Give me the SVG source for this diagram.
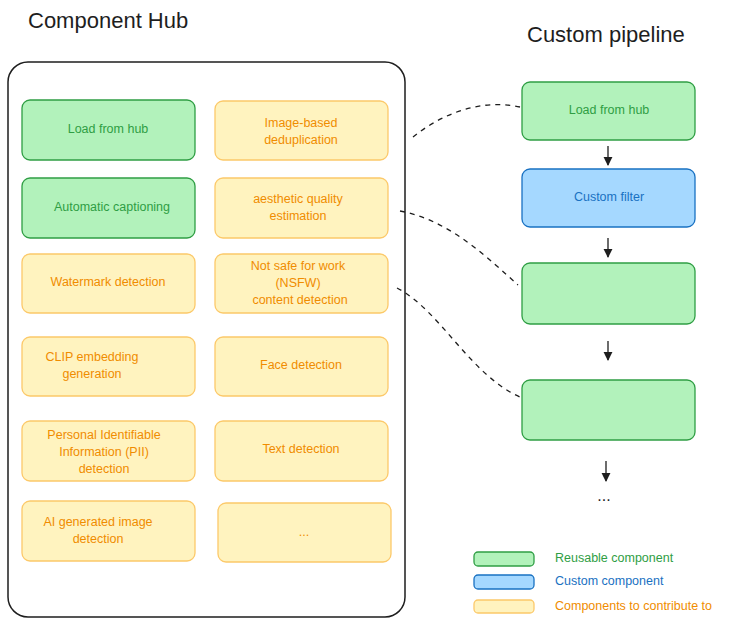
<svg xmlns="http://www.w3.org/2000/svg" width="756" height="626" viewBox="0 0 756 626">
<style>
text{font-family:"Liberation Sans",Arial,sans-serif;text-anchor:middle;dominant-baseline:middle}
.t{font-size:22px;fill:#1e1e1e;text-anchor:start}
.g rect{fill:#b2f2bb;stroke:#2f9e44;stroke-width:1.3}
.g text{fill:#2f9e44;font-size:12.5px}
.o rect{fill:#fff3bf;stroke:#fcc96a;stroke-width:1.3}
.o text{fill:#f08c00;font-size:12.5px}
.b rect{fill:#a5d8ff;stroke:#1971c2;stroke-width:1.3}
.b text{fill:#1971c2;font-size:12.5px}
.c path{fill:none;stroke:#1e1e1e;stroke-width:1.3}
.d{stroke-dasharray:5 5}
</style>
<defs><marker id="a" viewBox="0 0 10 10" refX="9" refY="5" markerWidth="7" markerHeight="7" orient="auto"><path d="M0,0L10,5L0,10z" fill="#1e1e1e"/></marker></defs>
<rect width="756" height="626" fill="#fff"/>
<text class="t" x="28" y="22">Component Hub</text>
<text class="t" x="527" y="36">Custom pipeline</text>
<rect x="8" y="62" width="397" height="555" rx="20" fill="#fff" stroke="#1e1e1e" stroke-width="1.5"/>
<g id="n1" class="g"><rect x="22" y="100" width="173" height="60" rx="8"/><text x="108" y="130">Load from hub</text></g>
<g id="n2" class="o"><rect x="215" y="101" width="173" height="59" rx="8"/><text x="301" y="124">Image-based</text><text x="301" y="141">deduplication</text></g>
<g id="n3" class="g"><rect x="22" y="178" width="173" height="60" rx="8"/><text x="112" y="208">Automatic captioning</text></g>
<g id="n4" class="o"><rect x="215" y="178" width="173" height="60" rx="8"/><text x="298" y="200">aesthetic quality</text><text x="298" y="217">estimation</text></g>
<g id="n5" class="o"><rect x="22" y="254" width="173" height="59" rx="8"/><text x="108" y="283">Watermark detection</text></g>
<g id="n6" class="o"><rect x="215" y="254" width="173" height="59" rx="8"/><text x="298" y="267">Not safe for work</text><text x="298" y="284">(NSFW)</text><text x="300" y="301">content detection</text></g>
<g id="n7" class="o"><rect x="22" y="337" width="173" height="59" rx="8"/><text x="92" y="358">CLIP embedding</text><text x="92" y="375">generation</text></g>
<g id="n8" class="o"><rect x="215" y="337" width="173" height="59" rx="8"/><text x="301" y="366">Face detection</text></g>
<g id="n9" class="o"><rect x="22" y="421" width="173" height="60" rx="8"/><text x="104" y="436">Personal Identifiable</text><text x="104" y="453">Information (PII)</text><text x="104" y="470">detection</text></g>
<g id="n10" class="o"><rect x="215" y="421" width="173" height="60" rx="8"/><text x="301" y="450">Text detection</text></g>
<g id="n11" class="o"><rect x="22" y="501" width="173" height="60" rx="8"/><text x="98" y="523">AI generated image</text><text x="98" y="540">detection</text></g>
<g id="n12" class="o"><rect x="218" y="503" width="173" height="59" rx="8"/><text x="304" y="533">...</text></g>
<g id="p1" class="g"><rect x="522" y="82" width="173" height="58" rx="8"/><text x="609" y="111">Load from hub</text></g>
<g id="p2" class="b"><rect x="522" y="169" width="173" height="58" rx="8"/><text x="609" y="198">Custom filter</text></g>
<g id="p3" class="g"><rect x="522" y="263" width="173" height="61" rx="8"/></g>
<g id="p4" class="g"><rect x="522" y="380" width="173" height="60" rx="8"/></g>
<g id="connectors" class="c">
<path d="M608,146V165" marker-end="url(#a)"/>
<path d="M608,238V257" marker-end="url(#a)"/>
<path d="M608,341V360" marker-end="url(#a)"/>
<path d="M606,461V481" marker-end="url(#a)"/>
<path class="d" d="M413,137C440,115 480,98 520,107"/>
<path class="d" d="M400,211C450,220 490,260 518,285"/>
<path class="d" d="M397,288C440,310 470,375 520,397"/>
</g>
<text x="604" y="497" font-size="16" fill="#1e1e1e">...</text>
<g id="legend">
<g class="g"><rect x="474" y="552" width="60" height="14" rx="4"/></g>
<g class="b"><rect x="474" y="575" width="60" height="14" rx="4"/></g>
<g class="o"><rect x="474" y="600" width="60" height="13" rx="4"/></g>
<text x="555" y="559" font-size="12.5" fill="#2f9e44" style="text-anchor:start">Reusable component</text>
<text x="555" y="582" font-size="12.5" fill="#1971c2" style="text-anchor:start">Custom component</text>
<text x="555" y="607" font-size="12.5" fill="#f08c00" style="text-anchor:start">Components to contribute to</text>
</g>
</svg>
